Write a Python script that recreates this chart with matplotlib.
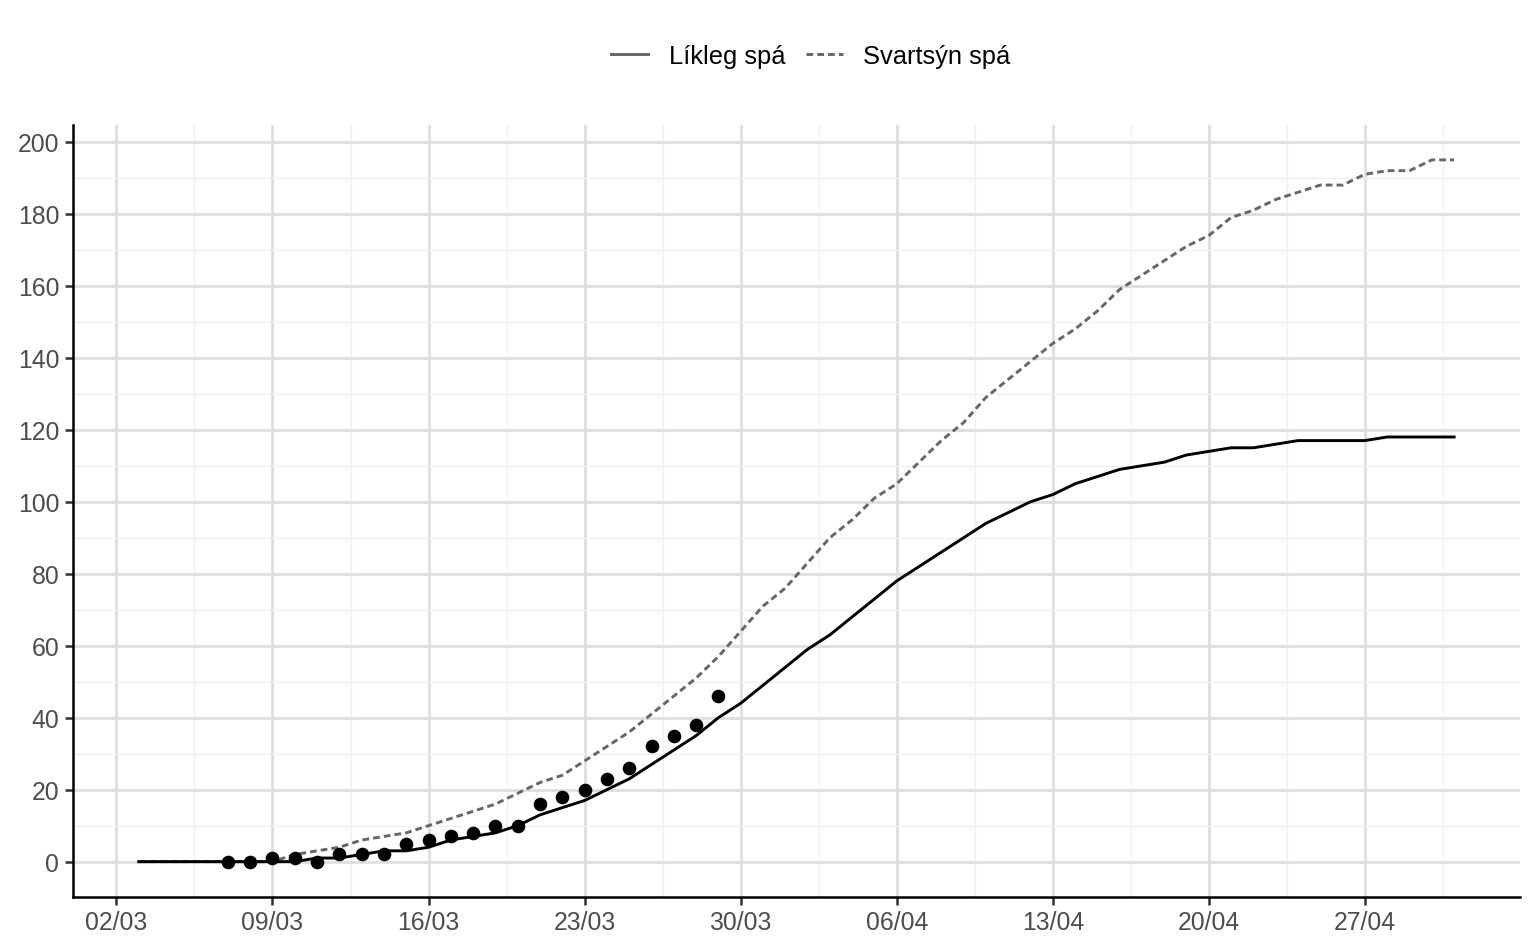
import numpy as np
import pandas as pd
import matplotlib
matplotlib.use("Agg")
import matplotlib.pyplot as plt
import matplotlib.dates as mdates
from matplotlib.lines import Line2D
from matplotlib.ticker import MultipleLocator

plt.rcParams['font.family'] = ['Liberation Sans', 'DejaVu Sans']

# forecast days 03/03 - 01/05 2020
spa_dates = pd.date_range("2020-03-03", "2020-05-01", freq="D")
likleg = [0, 0, 0, 0, 0, 0, 0, 0, 1, 1, 2, 3, 3, 4, 6, 7, 8, 10, 13, 15,
          17, 20, 23, 27, 31, 35, 40, 44, 49,
          54, 59, 63, 68, 73, 78, 82, 86, 90, 94, 97, 100, 102, 105, 107,
          109, 110, 111, 113, 114, 115, 115, 116, 117, 117, 117, 117, 118,
          118, 118,
          118]
svartsyn = [0, 0, 0, 0, 0, 0, 0, 2, 3, 4, 6, 7, 8, 10, 12, 14, 16, 19, 22,
            24, 28, 32, 36, 41, 46, 51, 57, 64, 71,
            76, 83, 90, 95, 101, 105, 111, 117, 122, 129, 134, 139, 144,
            148, 153, 159, 163, 167, 171, 174, 179, 181, 184, 186, 188, 188,
            191, 192, 192, 195,
            195]

# observed counts 07/03 - 29/03
obs_dates = pd.date_range("2020-03-07", "2020-03-29", freq="D")
observed = [0, 0, 1, 1, 0, 2, 2, 2, 5, 6, 7, 8, 10, 10, 16, 18, 20, 23, 26,
            32, 35, 38, 46]

tick_dates = pd.date_range("2020-03-02", "2020-04-27", freq="7D")

fig = plt.figure(figsize=(7.68, 4.765), dpi=200)
ax = fig.add_axes([0.0475, 0.058, 0.942, 0.81])

dot_style = (0, (2.3, 1.4))
ax.plot(spa_dates, svartsyn, color="#666666", lw=1.05, linestyle=dot_style, zorder=3)
ax.plot(spa_dates, likleg, color="black", lw=1.05, zorder=3)
ax.plot(obs_dates, observed, "o", color="black", ms=4.9, mec="none", zorder=4)

ax.set_xticks(tick_dates)
ax.xaxis.set_major_formatter(mdates.DateFormatter("%d/%m"))
minor_x = tick_dates + pd.Timedelta(hours=84)
ax.set_xticks(minor_x, minor=True)
ax.yaxis.set_major_locator(MultipleLocator(20))
ax.yaxis.set_minor_locator(MultipleLocator(10))

# ggplot-style 5% expansion, set after the ticks so they don't widen it
pad = pd.Timedelta(days=2.95)
ax.set_xlim(spa_dates[0] - pad, spa_dates[-1] + pad)
ax.set_ylim(-9.75, 204.75)

ax.grid(True, which="major", color="#DEDEDE", lw=1.0)
ax.grid(True, which="minor", color="#F0F0F0", lw=0.5)
ax.set_axisbelow(True)

for s in ["top", "right"]:
    ax.spines[s].set_visible(False)
for s in ["left", "bottom"]:
    ax.spines[s].set_color("black")
    ax.spines[s].set_linewidth(0.9)

ax.tick_params(which="major", length=2.75, width=0.9, color="#333333",
               labelsize=8.9, labelcolor="#4D4D4D", pad=2.2)
ax.tick_params(which="minor", length=0)

handles = [Line2D([], [], color="#666666", lw=1.05),
           Line2D([], [], color="#666666", lw=1.05, linestyle=dot_style)]
fig.legend(handles, ["Líkleg spá", "Svartsýn spá"], loc="center",
           bbox_to_anchor=(0.528, 0.94), ncol=2, frameon=False,
           fontsize=9.2, handlelength=1.45, handletextpad=0.8,
           columnspacing=0.8)

fig.savefig("out.png", dpi=200, facecolor="white")
